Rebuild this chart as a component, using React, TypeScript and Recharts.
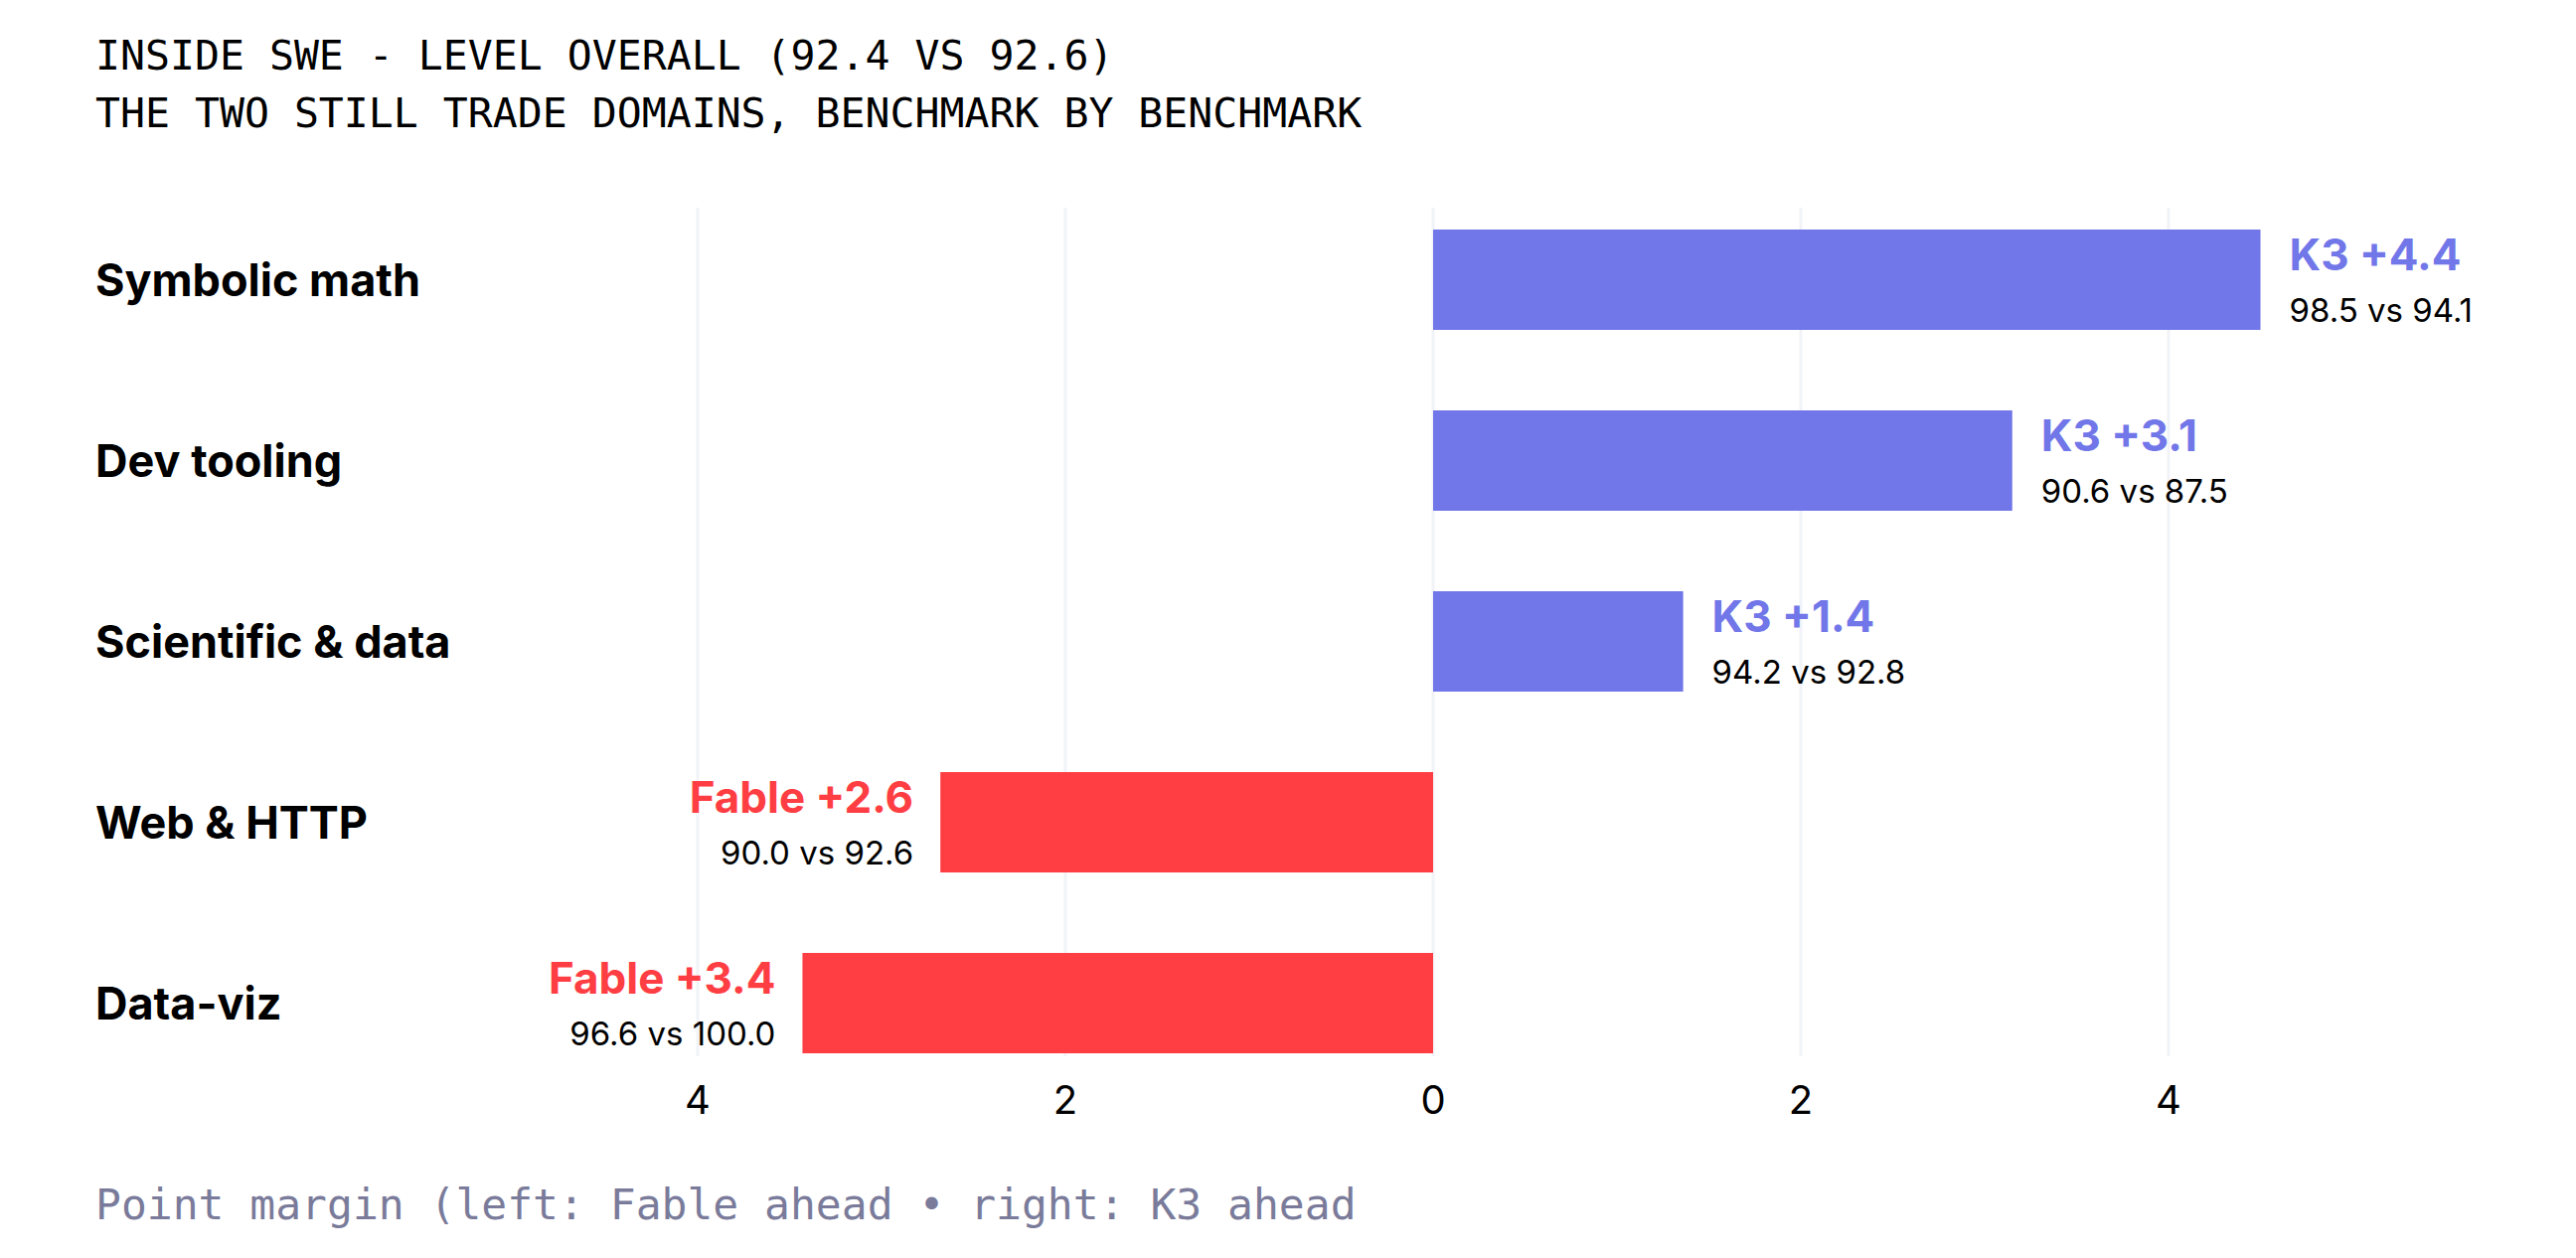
import { Bar, BarChart, CartesianGrid, Cell, LabelList, XAxis, YAxis } from "recharts";

const categories = ["Symbolic math", "Dev tooling", "Scientific & data", "Web & HTTP", "Data-viz"];
// point margin, positive = K3 ahead, negative = Fable ahead
const margins = [4.5, 3.15, 1.36, -2.68, -3.43];
const leadLabels = ["K3 +4.4", "K3 +3.1", "K3 +1.4", "Fable +2.6", "Fable +3.4"];
const scoreLabels = ["98.5 vs 94.1", "90.6 vs 87.5", "94.2 vs 92.8", "90.0 vs 92.6", "96.6 vs 100.0"];
const xTicks = [-4, -2, 0, 2, 4];

const K3 = "#7176e8";
const FABLE = "#ff3e43";
const SANS = "Inter, 'Noto Sans', sans-serif";
const MONO = "'DejaVu Sans Mono', monospace";

const data = categories.map((name, i) => ({
  name,
  margin: margins[i],
  lead: leadLabels[i],
  scores: scoreLabels[i],
}));

function CatTick(props: any) {
  const { y, payload } = props;
  return (
    <text x={96} y={y} dominantBaseline="central" fontFamily={SANS} fontWeight={700} fontSize={45} fill="#000">
      {payload.value}
    </text>
  );
}

function BarLabel(props: any) {
  const { x, y, width, height, index } = props;
  const row = data[index];
  const left = Math.min(x, x + width);
  const right = Math.max(x, x + width);
  const cy = y + height / 2;
  const pos = row.margin >= 0;
  const tx = pos ? right + 29 : left - 27;
  const anchor = pos ? "start" : "end";
  return (
    <g>
      <text x={tx} y={cy - 26} textAnchor={anchor} dominantBaseline="central" fontFamily={SANS} fontWeight={700} fontSize={44} fill={pos ? K3 : FABLE}>
        {row.lead}
      </text>
      <text x={tx} y={cy + 30} textAnchor={anchor} dominantBaseline="central" fontFamily={SANS} fontSize={33} fill="#000">
        {row.scores}
      </text>
    </g>
  );
}

export default function App() {
  return (
    <div style={{ position: "absolute", left: 0, top: 0, width: 2592, height: 1266, background: "#fff" }}>
      <BarChart
        layout="vertical"
        width={2592}
        height={1266}
        data={data}
        margin={{ top: 209, right: 40, bottom: 143, left: 117 }}
      >
        <CartesianGrid horizontal={false} stroke="#f2f3f8" strokeWidth={3} verticalValues={xTicks} />
        <XAxis
          type="number"
          domain={[-5, 6]}
          ticks={xTicks}
          allowDataOverflow
          tickFormatter={(v: number) => String(Math.abs(v))}
          axisLine={false}
          tickLine={false}
          tickSize={0}
          tickMargin={30}
          height={60}
          tick={{ fill: "#000", fontSize: 40, fontFamily: SANS }}
        />
        <YAxis
          type="category"
          dataKey="name"
          width={400}
          axisLine={false}
          tickLine={false}
          padding={{ top: -19, bottom: -37 }}
          tick={<CatTick />}
        />
        <Bar dataKey="margin" barSize={101} isAnimationActive={false}>
          {data.map((d) => (
            <Cell key={d.name} fill={d.margin >= 0 ? K3 : FABLE} />
          ))}
          <LabelList dataKey="margin" content={<BarLabel />} />
        </Bar>
      </BarChart>
      <svg width={2592} height={1266} style={{ position: "absolute", left: 0, top: 0, pointerEvents: "none" }}>
        <text x={96} y={70} fontFamily={MONO} fontSize={41.5} fill="#000">
          INSIDE SWE - LEVEL OVERALL (92.4 VS 92.6)
        </text>
        <text x={96} y={128} fontFamily={MONO} fontSize={41.5} fill="#000">
          THE TWO STILL TRADE DOMAINS, BENCHMARK BY BENCHMARK
        </text>
        <text x={96} y={1227} fontFamily={MONO} fontSize={43} fill="#7a7b9a">
          Point margin (left: Fable ahead • right: K3 ahead
        </text>
      </svg>
    </div>
  );
}
